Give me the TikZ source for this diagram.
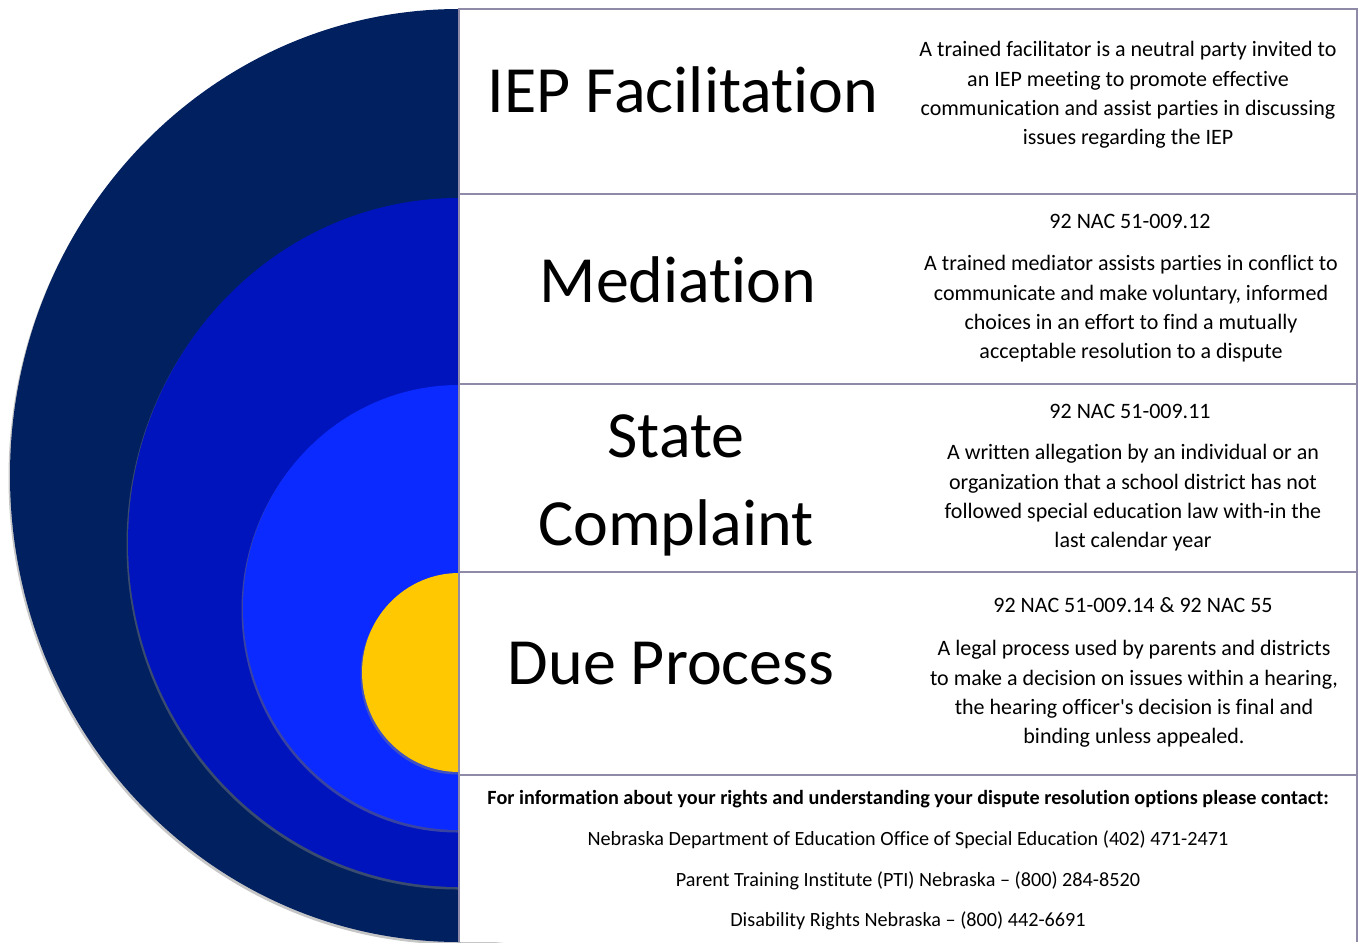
\documentclass[tikz,border=0pt]{standalone}
\usepackage{fontspec}
\setmainfont{Carlito}[Ligatures={NoCommon}]
\usetikzlibrary{shadows}

\definecolor{ringnavy}{HTML}{002060}
\definecolor{ringmid}{HTML}{0014BE}
\definecolor{ringbright}{HTML}{0A2AFF}
\definecolor{ringgold}{HTML}{FFC800}
\definecolor{gridline}{HTML}{8E8AA8}

\begin{document}
\begin{tikzpicture}[x=1pt,y=-1pt,
    ring/.style={drop shadow={shadow xshift=-1.5pt,shadow yshift=-2.5pt,opacity=.45}},
    grid/.style={draw=gridline,line width=2pt},
    title/.style={font=\fontsize{66}{88}\selectfont,align=center},
    cite/.style={font=\fontsize{22}{29.3}\selectfont},
    desc/.style={font=\fontsize{22}{29.3}\selectfont,align=center},
    contact/.style={font=\fontsize{20.2}{25}\selectfont}]
        \useasboundingbox (0,0) rectangle (1359,942);

        % nested half circles
        \fill[ringnavy,ring] (459,475.5) ellipse [x radius=449,y radius=466.5];
        \fill[ringmid,ring] (459,542.5) ellipse [x radius=331,y radius=344.5];
        \fill[ringbright,ring] (459,607.5) ellipse [x radius=216,y radius=222.5];
        \fill[ringgold,ring] (459,672.5) ellipse [x radius=97,y radius=99.5];

        % table
        \fill[white] (459,9) rectangle (1357,942);
        \draw[grid] (459,942) -- (459,9) -- (1357,9) -- (1357,942);
        \draw[grid] (459,194) -- (1357,194);
        \draw[grid] (459,384) -- (1357,384);
        \draw[grid] (459,572) -- (1357,572);
        \draw[grid] (459,775) -- (1357,775);

        \node[title] (t_1) at (683,90) {IEP Facilitation};
        \node[desc] (d_1) at (1128,95) {A trained facilitator is a neutral party invited to\\an IEP meeting to promote effective\\communication and assist parties in discussing\\issues regarding the IEP};

        \node[title] (t_2) at (678,280) {Mediation};
        \node[cite] (c_2) at (1130,221) {92 NAC 51-009.12};
        \node[desc] (d_2) at (1131,309) {A trained mediator assists parties in conflict to\\communicate and make voluntary, informed\\choices in an effort to find a mutually\\acceptable resolution to a dispute};

        \node[title] (t_3) at (676,485) {State\\Complaint};
        \node[cite] (c_3) at (1130,411) {92 NAC 51-009.11};
        \node[desc] (d_3) at (1133,498) {A written allegation by an individual or an\\organization that a school district has not\\followed special education law with-in the\\last calendar year};

        \node[title] (t_4) at (671,664) {Due Process};
        \node[cite] (c_4) at (1133,605) {92 NAC 51-009.14 \& 92 NAC 55};
        \node[desc] (d_4) at (1134,694) {A legal process used by parents and districts\\to make a decision on issues within a hearing,\\the hearing officer\textquotesingle s decision is final and\\binding unless appealed.};

        % contacts
        \node[contact,font=\bfseries\fontsize{20.2}{25}\selectfont] (f_0) at (908,799) {For information about your rights and understanding your dispute resolution options please contact:};
        \node[contact] (f_1) at (908,840) {Nebraska Department of Education Office of Special Education (402) 471-2471};
        \node[contact] (f_2) at (908,881) {Parent Training Institute (PTI) Nebraska – (800) 284-8520};
        \node[contact] (f_3) at (908,921) {Disability Rights Nebraska – (800) 442-6691};
\end{tikzpicture}
\end{document}
